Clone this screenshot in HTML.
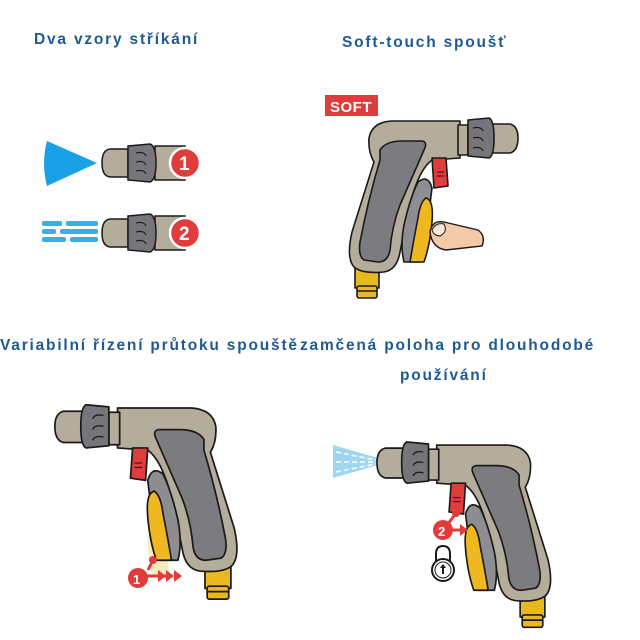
<!DOCTYPE html>
<html><head><meta charset="utf-8"><style>
html,body{margin:0;padding:0;background:#fff;width:640px;height:640px;overflow:hidden}
svg{display:block}
text{font-family:"Liberation Sans",sans-serif;font-weight:bold;fill:#1d5a94;font-size:15.5px;letter-spacing:1.8px}
</style></head><body>
<svg width="640" height="640" viewBox="0 0 640 640" xmlns="http://www.w3.org/2000/svg">
<defs>
<g id="gun" stroke="#1a1a1a" stroke-width="1.6" stroke-linejoin="round">
  <rect x="355" y="268" width="24" height="20" fill="#e8b820"/>
  <rect x="357" y="286" width="20" height="12" rx="2" fill="#e8b820"/>
  <line x1="357" y1="291" x2="377" y2="291"/>
  <path d="M460,121 L392,121 Q372,122 369,138 Q368,152 374,162 L352,232 Q346,258 354,267 Q362,274 384,272 Q397,270 400,252 L406,222 Q411,196 418,180 Q424,166 432,160 L460,158 Z" fill="#b5ad9c"/>
  <path d="M380,150 Q386,141 402,141 L422,141 Q428,142 424,150 L400,205 Q392,226 390,250 Q388,262 378,262 L364,260 Q358,256 360,242 Q368,200 380,160 Z" fill="#7c7c80"/>
  <path d="M418,182 Q428,174 432,188 L428,220 Q424,240 420,262 L404,262 Q400,246 404,225 Q410,198 418,182 Z" fill="#8e8e92"/>
  <path d="M426,198 Q434,200 432,222 Q430,245 424,262 L410,262 Q414,238 418,218 Q420,202 426,198 Z" fill="#f0b820"/>
  <path d="M432,158 L446,158 L448,186 L434,188 Z" fill="#e03c3c"/>
  <line x1="437" y1="172" x2="444" y2="172" stroke-width="1"/>
  <line x1="437" y1="176" x2="444" y2="176" stroke-width="1"/>
  <rect x="458" y="125" width="10" height="30" fill="#b5ad9c"/>
  <path d="M492,124 L510,124 Q518,126 518,138 Q518,151 510,153 L492,153 Z" fill="#b5ad9c"/>
  <path d="M468,120 L489,118 Q494,120 494,138 Q494,156 489,158 L468,156 Z" fill="#76767a"/>
  <path d="M473,128 q8,-2 10,3 M473,138 q8,-2 10,3 M473,148 q8,-2 10,3" fill="none" stroke-width="1.2"/>
</g>
</defs>

<text x="34" y="44">Dva vzory stříkání</text>
<text x="342" y="47">Soft-touch spoušť</text>
<text x="0" y="350">Variabilní řízení průtoku spouště</text>
<text x="300" y="350">zamčená poloha pro dlouhodobé</text>
<text x="400" y="380">používání</text>

<path d="M47,141 L97,163 L47,186 Q41,163 47,141 Z" fill="#1aa0e6"/>
<g fill="#3aaee8">
 <rect x="42" y="221" width="20" height="5" rx="2"/><rect x="66" y="221" width="32" height="5" rx="2"/>
 <rect x="42" y="229" width="14" height="5" rx="2"/><rect x="60" y="229" width="38" height="5" rx="2"/>
 <rect x="42" y="237" width="24" height="5" rx="2"/><rect x="70" y="237" width="28" height="5" rx="2"/>
</g>
<g id="nz" stroke="#1a1a1a" stroke-width="1.5">
 <path d="M155,146 L185,146 L185,180 L155,180 Z" fill="#b5ad9c"/>
 <path d="M128,149 L110,149 Q102,150 102,163 Q102,176 110,177 L128,177 Z" fill="#b5ad9c"/>
 <path d="M128,146 L150,144 Q156,146 156,163 Q156,180 150,182 L128,180 Z" fill="#76767a"/>
 <path d="M136,153 q8,-2 10,3 M136,162 q8,-2 10,3 M136,171 q8,-2 10,3" fill="none" stroke-width="1.1"/>
</g>
<use href="#nz" transform="translate(0,70)"/>
<circle cx="185" cy="163" r="15" fill="#e03c3c" stroke="#fff" stroke-width="2.5"/>
<text x="179" y="170" style="fill:#fff;font-size:19px;letter-spacing:0">1</text>
<circle cx="185" cy="233" r="15" fill="#e03c3c" stroke="#fff" stroke-width="2.5"/>
<text x="179" y="240" style="fill:#fff;font-size:19px;letter-spacing:0">2</text>

<rect x="325" y="95" width="53" height="21" fill="#e03c3c"/>
<text x="330" y="112" style="fill:#fff;font-size:15px;letter-spacing:0.5px">SOFT</text>
<use href="#gun"/>
<path d="M430,232 Q432,220 444,222 L478,230 Q486,236 482,246 L446,250 Q432,248 430,232 Z" fill="#f3c9a8" stroke="#1a1a1a" stroke-width="1.4"/>
<path d="M432,230 Q436,222 444,224 Q448,232 440,236 Q434,236 432,230 Z" fill="#fde6d4" stroke="#1a1a1a" stroke-width="1"/>

<path d="M150,520 Q145,545 152,576 L170,576 Q166,550 160,520 Z" fill="#f4e6b0" opacity="0.8"/>
<use href="#gun" transform="matrix(-1.08 0 0 1.08 614.3 277.3)"/>
<circle cx="153" cy="560" r="4" fill="#e03c3c"/>
<path d="M153,560 L148,570 M140,576 L168,576" stroke="#e03c3c" stroke-width="3" fill="none"/>
<path d="M158,570 l8,6 l-8,6 Z M166,570 l8,6 l-8,6 Z M174,570 l8,6 l-8,6 Z" fill="#e03c3c"/>
<circle cx="138" cy="578" r="10" fill="#e03c3c"/>
<text x="133" y="584" style="fill:#fff;font-size:13px;letter-spacing:0">1</text>

<path d="M333,445 L378,458 L378,465 L333,478 Z" fill="#9fd6f2"/>
<path d="M336,452 L376,460 M336,462 L376,462 M336,472 L376,464" stroke="#fff" stroke-width="1.5" stroke-dasharray="5 3"/>
<use href="#gun" transform="matrix(-1.03 0 0 1.03 910.5 320.4)"/>
<circle cx="456" cy="513" r="4" fill="#e03c3c"/>
<path d="M456,513 L448,524 M445,530 L462,530" stroke="#e03c3c" stroke-width="3"/>
<path d="M460,524 l8,6 l-8,6 Z" fill="#e03c3c"/>
<circle cx="443" cy="530" r="10" fill="#e03c3c"/>
<text x="438" y="536" style="fill:#fff;font-size:13px;letter-spacing:0">2</text>
<path d="M436,562 L436,554 Q436,546 443,546 Q450,546 450,554 L450,562" fill="none" stroke="#1a1a1a" stroke-width="2"/>
<circle cx="443" cy="570" r="11" fill="#fff" stroke="#1a1a1a" stroke-width="2"/>
<circle cx="443" cy="570" r="8" fill="none" stroke="#1a1a1a" stroke-width="1"/>
<path d="M443,564 l-3,4 h2 v6 h2 v-6 h2 Z" fill="#1a1a1a"/>
</svg>
</body></html>
